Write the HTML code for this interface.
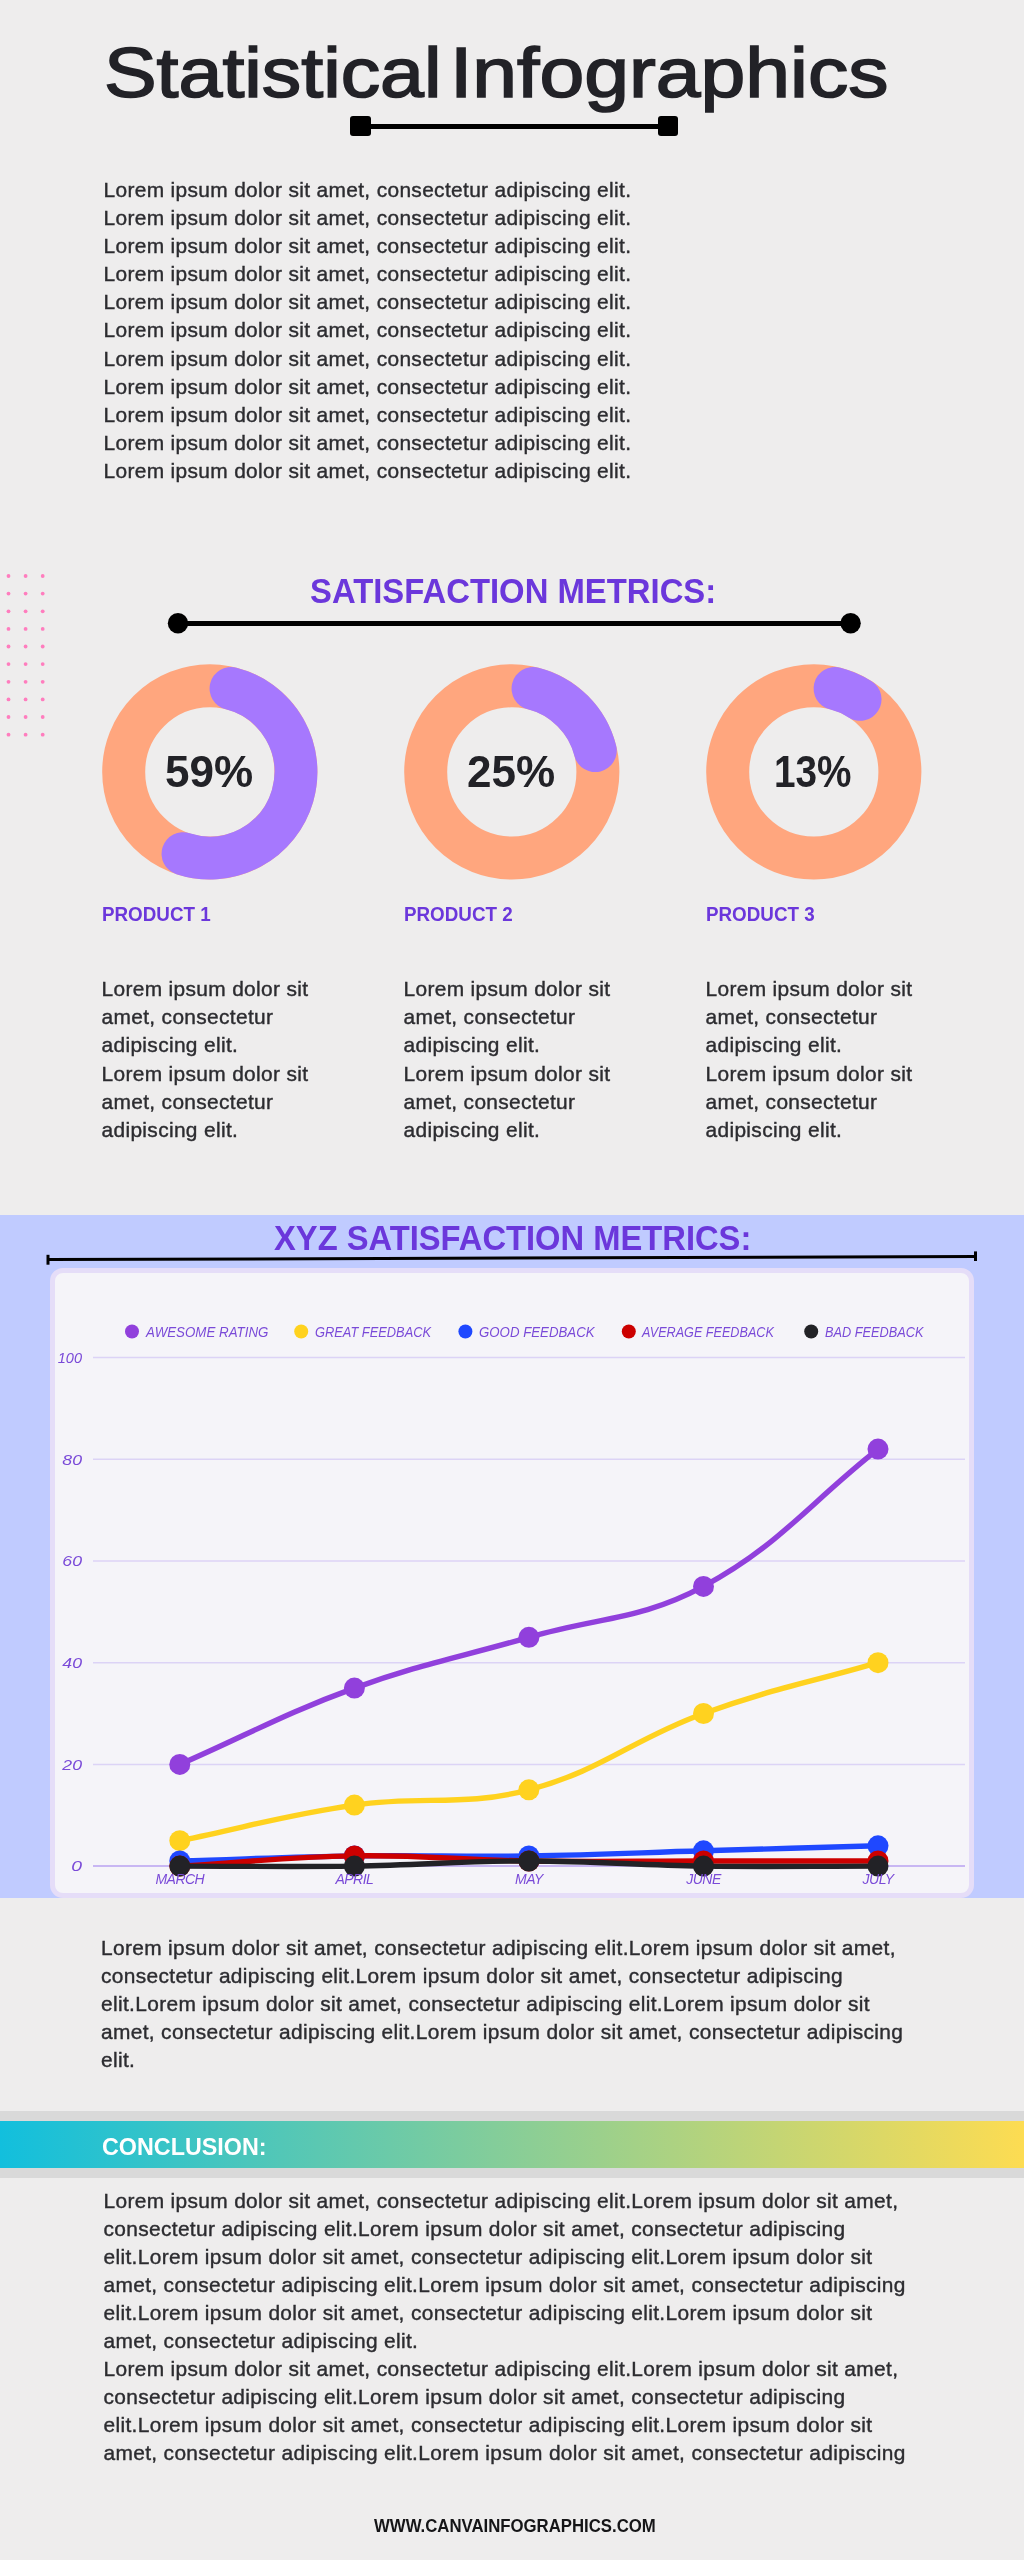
<!DOCTYPE html>
<html><head><meta charset="utf-8"><title>Statistical Infographics</title>
<style>
html,body{margin:0;padding:0;background:#EEEDED}
body{width:1024px;height:2560px;position:relative;overflow:hidden;background:#EEEDED;font-family:"Liberation Sans",sans-serif}
</style></head><body>
<div style="position:absolute;left:0;top:0;width:1024px;height:2560px;will-change:transform">
<div style="position:absolute;left:104.00px;top:31.73px;font-size:69.8px;line-height:83.75999999999999px;color:#222227;font-weight:normal;font-style:normal;letter-spacing:0px;white-space:pre;transform:scaleX(1.13);transform-origin:0 0;-webkit-text-stroke:1.6px #222227;">Statistical</div>
<div style="position:absolute;left:450.00px;top:31.73px;font-size:69.8px;line-height:83.75999999999999px;color:#222227;font-weight:normal;font-style:normal;letter-spacing:0px;white-space:pre;transform:scaleX(1.153);transform-origin:0 0;-webkit-text-stroke:1.6px #222227;">Infographics</div>
<div style="position:absolute;left:360px;top:123.5px;width:308px;height:5px;background:#000"></div>
<div style="position:absolute;left:350.3px;top:116px;width:20.5px;height:20.3px;background:#000;border-radius:3px"></div>
<div style="position:absolute;left:657.5px;top:116px;width:20.5px;height:20.3px;background:#000;border-radius:3px"></div>
<div style="position:absolute;left:103.50px;top:175.68px;font-size:20.9px;line-height:28.16px;color:#2C2C30;letter-spacing:0.343px;word-spacing:0px;white-space:pre;-webkit-text-stroke:0.4px #2C2C30;">Lorem ipsum dolor sit amet, consectetur adipiscing elit.<br>Lorem ipsum dolor sit amet, consectetur adipiscing elit.<br>Lorem ipsum dolor sit amet, consectetur adipiscing elit.<br>Lorem ipsum dolor sit amet, consectetur adipiscing elit.<br>Lorem ipsum dolor sit amet, consectetur adipiscing elit.<br>Lorem ipsum dolor sit amet, consectetur adipiscing elit.<br>Lorem ipsum dolor sit amet, consectetur adipiscing elit.<br>Lorem ipsum dolor sit amet, consectetur adipiscing elit.<br>Lorem ipsum dolor sit amet, consectetur adipiscing elit.<br>Lorem ipsum dolor sit amet, consectetur adipiscing elit.<br>Lorem ipsum dolor sit amet, consectetur adipiscing elit.</div>
<svg style="position:absolute;left:0;top:0" width="1024" height="1000" viewBox="0 0 1024 1000"><circle cx="8.5" cy="576.0" r="1.9" fill="#FF7DBE"/><circle cx="25.6" cy="576.0" r="1.9" fill="#FF7DBE"/><circle cx="42.7" cy="576.0" r="1.9" fill="#FF7DBE"/><circle cx="8.5" cy="593.6" r="1.9" fill="#FF7DBE"/><circle cx="25.6" cy="593.6" r="1.9" fill="#FF7DBE"/><circle cx="42.7" cy="593.6" r="1.9" fill="#FF7DBE"/><circle cx="8.5" cy="611.3" r="1.9" fill="#FF7DBE"/><circle cx="25.6" cy="611.3" r="1.9" fill="#FF7DBE"/><circle cx="42.7" cy="611.3" r="1.9" fill="#FF7DBE"/><circle cx="8.5" cy="628.9" r="1.9" fill="#FF7DBE"/><circle cx="25.6" cy="628.9" r="1.9" fill="#FF7DBE"/><circle cx="42.7" cy="628.9" r="1.9" fill="#FF7DBE"/><circle cx="8.5" cy="646.5" r="1.9" fill="#FF7DBE"/><circle cx="25.6" cy="646.5" r="1.9" fill="#FF7DBE"/><circle cx="42.7" cy="646.5" r="1.9" fill="#FF7DBE"/><circle cx="8.5" cy="664.1" r="1.9" fill="#FF7DBE"/><circle cx="25.6" cy="664.1" r="1.9" fill="#FF7DBE"/><circle cx="42.7" cy="664.1" r="1.9" fill="#FF7DBE"/><circle cx="8.5" cy="681.8" r="1.9" fill="#FF7DBE"/><circle cx="25.6" cy="681.8" r="1.9" fill="#FF7DBE"/><circle cx="42.7" cy="681.8" r="1.9" fill="#FF7DBE"/><circle cx="8.5" cy="699.4" r="1.9" fill="#FF7DBE"/><circle cx="25.6" cy="699.4" r="1.9" fill="#FF7DBE"/><circle cx="42.7" cy="699.4" r="1.9" fill="#FF7DBE"/><circle cx="8.5" cy="717.0" r="1.9" fill="#FF7DBE"/><circle cx="25.6" cy="717.0" r="1.9" fill="#FF7DBE"/><circle cx="42.7" cy="717.0" r="1.9" fill="#FF7DBE"/><circle cx="8.5" cy="734.7" r="1.9" fill="#FF7DBE"/><circle cx="25.6" cy="734.7" r="1.9" fill="#FF7DBE"/><circle cx="42.7" cy="734.7" r="1.9" fill="#FF7DBE"/><circle cx="209.8" cy="771.9" r="86.1" fill="none" stroke="#FFA67E" stroke-width="43"/><path d="M231.08 688.47 A86.1 86.1 0 1 1 183.06 853.74" fill="none" stroke="#A678FE" stroke-width="43" stroke-linecap="round"/><circle cx="511.8" cy="771.9" r="86.1" fill="none" stroke="#FFA67E" stroke-width="43"/><path d="M533.08 688.47 A86.1 86.1 0 0 1 595.23 750.62" fill="none" stroke="#A678FE" stroke-width="43" stroke-linecap="round"/><circle cx="813.8" cy="771.9" r="86.1" fill="none" stroke="#FFA67E" stroke-width="43"/><path d="M835.08 688.47 A86.1 86.1 0 0 1 860.05 699.28" fill="none" stroke="#A678FE" stroke-width="43" stroke-linecap="round"/><line x1="178" y1="623.5" x2="850.6" y2="623.5" stroke="#000" stroke-width="5"/><circle cx="178" cy="623.3" r="10.2" fill="#000"/><circle cx="850.6" cy="623.3" r="10.2" fill="#000"/></svg>
<div style="position:absolute;left:309.80px;top:570.10px;font-size:35.5px;line-height:42.6px;color:#6B37DB;font-weight:bold;font-style:normal;letter-spacing:0px;white-space:pre;transform:scaleX(0.925);transform-origin:0 0;">SATISFACTION METRICS:</div>
<div style="position:absolute;left:165.00px;top:745.95px;font-size:44px;line-height:52.8px;color:#222227;font-weight:bold;font-style:normal;letter-spacing:0px;white-space:pre;">59%</div>
<div style="position:absolute;left:467.00px;top:745.95px;font-size:44px;line-height:52.8px;color:#222227;font-weight:bold;font-style:normal;letter-spacing:0px;white-space:pre;">25%</div>
<div style="position:absolute;left:773.80px;top:745.95px;font-size:44px;line-height:52.8px;color:#222227;font-weight:bold;font-style:normal;letter-spacing:0px;white-space:pre;transform:scaleX(0.88);transform-origin:0 0;">13%</div>
<div style="position:absolute;left:101.50px;top:901.22px;font-size:20.9px;line-height:25.08px;color:#6B37DB;font-weight:bold;font-style:normal;letter-spacing:0px;white-space:pre;transform:scaleX(0.9);transform-origin:0 0;">PRODUCT 1</div>
<div style="position:absolute;left:101.50px;top:974.81px;font-size:20.9px;line-height:28.3px;color:#2C2C30;letter-spacing:0.343px;word-spacing:0px;white-space:pre;-webkit-text-stroke:0.4px #2C2C30;">Lorem ipsum dolor sit<br>amet, consectetur<br>adipiscing elit.<br>Lorem ipsum dolor sit<br>amet, consectetur<br>adipiscing elit.</div>
<div style="position:absolute;left:403.50px;top:901.22px;font-size:20.9px;line-height:25.08px;color:#6B37DB;font-weight:bold;font-style:normal;letter-spacing:0px;white-space:pre;transform:scaleX(0.9);transform-origin:0 0;">PRODUCT 2</div>
<div style="position:absolute;left:403.50px;top:974.81px;font-size:20.9px;line-height:28.3px;color:#2C2C30;letter-spacing:0.343px;word-spacing:0px;white-space:pre;-webkit-text-stroke:0.4px #2C2C30;">Lorem ipsum dolor sit<br>amet, consectetur<br>adipiscing elit.<br>Lorem ipsum dolor sit<br>amet, consectetur<br>adipiscing elit.</div>
<div style="position:absolute;left:705.50px;top:901.22px;font-size:20.9px;line-height:25.08px;color:#6B37DB;font-weight:bold;font-style:normal;letter-spacing:0px;white-space:pre;transform:scaleX(0.9);transform-origin:0 0;">PRODUCT 3</div>
<div style="position:absolute;left:705.50px;top:974.81px;font-size:20.9px;line-height:28.3px;color:#2C2C30;letter-spacing:0.343px;word-spacing:0px;white-space:pre;-webkit-text-stroke:0.4px #2C2C30;">Lorem ipsum dolor sit<br>amet, consectetur<br>adipiscing elit.<br>Lorem ipsum dolor sit<br>amet, consectetur<br>adipiscing elit.</div>
<div style="position:absolute;left:0;top:1215.4px;width:1024px;height:683px;background:#C0CBFF"></div>
<div style="position:absolute;left:49.8px;top:1267.8px;width:924.5px;height:630.2px;box-sizing:border-box;border:5px solid #E5DDF8;border-radius:13px;background:#F5F4F9"></div>
<div style="position:absolute;left:274.00px;top:1217.66px;font-size:34.7px;line-height:41.64px;color:#6B37DB;font-weight:bold;font-style:normal;letter-spacing:0px;white-space:pre;transform:scaleX(0.943);transform-origin:0 0;">XYZ SATISFACTION METRICS:</div>
<svg style="position:absolute;left:0;top:0" width="1024" height="2000" viewBox="0 0 1024 2000"><line x1="48" y1="1259.6" x2="975.5" y2="1256.5" stroke="#000" stroke-width="3"/><line x1="48" y1="1254.8" x2="48" y2="1264.7" stroke="#000" stroke-width="3"/><line x1="975.5" y1="1251.4" x2="975.5" y2="1261" stroke="#000" stroke-width="3"/><line x1="93" y1="1866.1" x2="965" y2="1866.1" stroke="#B9A2F0" stroke-width="1.5"/><line x1="93" y1="1764.4" x2="965" y2="1764.4" stroke="#DCD3F6" stroke-width="1.5"/><line x1="93" y1="1662.7" x2="965" y2="1662.7" stroke="#DCD3F6" stroke-width="1.5"/><line x1="93" y1="1561.0" x2="965" y2="1561.0" stroke="#DCD3F6" stroke-width="1.5"/><line x1="93" y1="1459.3" x2="965" y2="1459.3" stroke="#DCD3F6" stroke-width="1.5"/><line x1="93" y1="1357.6" x2="965" y2="1357.6" stroke="#DCD3F6" stroke-width="1.5"/><path d="M179.8 1764.4 C249.6 1733.9 282.9 1714.1 354.4 1688.1 C422.5 1663.3 459.1 1657.6 528.9 1637.3 C598.7 1616.9 640.6 1620.3 703.5 1586.4 C780.2 1545.0 808.2 1504.0 878.0 1449.1" fill="none" stroke="#9140DC" stroke-width="5.4" stroke-linejoin="round"/><circle cx="179.8" cy="1764.4" r="10.5" fill="#9140DC"/><circle cx="354.4" cy="1688.1" r="10.5" fill="#9140DC"/><circle cx="528.9" cy="1637.3" r="10.5" fill="#9140DC"/><circle cx="703.5" cy="1586.4" r="10.5" fill="#9140DC"/><circle cx="878.0" cy="1449.1" r="10.5" fill="#9140DC"/><path d="M179.8 1840.7 C249.6 1826.4 284.0 1815.3 354.4 1805.1 C423.6 1795.0 462.0 1807.4 528.9 1789.8 C601.6 1770.8 632.0 1739.6 703.5 1713.5 C771.6 1688.7 808.2 1683.0 878.0 1662.7" fill="none" stroke="#FFD21F" stroke-width="5.4" stroke-linejoin="round"/><circle cx="179.8" cy="1840.7" r="10.5" fill="#FFD21F"/><circle cx="354.4" cy="1805.1" r="10.5" fill="#FFD21F"/><circle cx="528.9" cy="1789.8" r="10.5" fill="#FFD21F"/><circle cx="703.5" cy="1713.5" r="10.5" fill="#FFD21F"/><circle cx="878.0" cy="1662.7" r="10.5" fill="#FFD21F"/><path d="M179.8 1861.0 C249.6 1859.0 284.5 1856.9 354.4 1855.9 C424.2 1854.9 459.1 1856.9 528.9 1855.9 C598.7 1854.9 633.6 1852.9 703.5 1850.8 C773.3 1848.8 808.2 1847.8 878.0 1845.8" fill="none" stroke="#1F48FF" stroke-width="5.4" stroke-linejoin="round"/><circle cx="179.8" cy="1861.0" r="10.5" fill="#1F48FF"/><circle cx="354.4" cy="1855.9" r="10.5" fill="#1F48FF"/><circle cx="528.9" cy="1855.9" r="10.5" fill="#1F48FF"/><circle cx="703.5" cy="1850.8" r="10.5" fill="#1F48FF"/><circle cx="878.0" cy="1845.8" r="10.5" fill="#1F48FF"/><path d="M179.8 1866.1 C249.6 1862.0 284.5 1856.9 354.4 1855.9 C424.1 1854.9 459.1 1860.0 528.9 1861.0 C598.7 1862.0 633.6 1861.0 703.5 1861.0 C773.3 1861.0 808.2 1861.0 878.0 1861.0" fill="none" stroke="#CC0000" stroke-width="5.4" stroke-linejoin="round"/><circle cx="179.8" cy="1866.1" r="10.5" fill="#CC0000"/><circle cx="354.4" cy="1855.9" r="10.5" fill="#CC0000"/><circle cx="528.9" cy="1861.0" r="10.5" fill="#CC0000"/><circle cx="703.5" cy="1861.0" r="10.5" fill="#CC0000"/><circle cx="878.0" cy="1861.0" r="10.5" fill="#CC0000"/><path d="M179.8 1866.1 C249.6 1866.1 284.5 1867.1 354.4 1866.1 C424.2 1865.1 459.1 1861.0 528.9 1861.0 C598.7 1861.0 633.6 1865.1 703.5 1866.1 C773.3 1867.1 808.2 1866.1 878.0 1866.1" fill="none" stroke="#222226" stroke-width="5.4" stroke-linejoin="round"/><circle cx="179.8" cy="1866.1" r="10.5" fill="#222226"/><circle cx="354.4" cy="1866.1" r="10.5" fill="#222226"/><circle cx="528.9" cy="1861.0" r="10.5" fill="#222226"/><circle cx="703.5" cy="1866.1" r="10.5" fill="#222226"/><circle cx="878.0" cy="1866.1" r="10.5" fill="#222226"/><circle cx="132" cy="1331.5" r="7" fill="#9140DC"/><circle cx="301.2" cy="1331.5" r="7" fill="#FFD21F"/><circle cx="465.4" cy="1331.5" r="7" fill="#1F48FF"/><circle cx="628.8" cy="1331.5" r="7" fill="#CC0000"/><circle cx="811.2" cy="1331.5" r="7" fill="#222226"/></svg>
<div style="position:absolute;left:145.60px;top:1322.92px;font-size:15.3px;line-height:18.36px;color:#7A4AD8;font-weight:normal;font-style:italic;letter-spacing:0px;white-space:pre;transform:scaleX(0.8708694214876034);transform-origin:0 0;">AWESOME RATING</div>
<div style="position:absolute;left:314.90px;top:1322.92px;font-size:15.3px;line-height:18.36px;color:#7A4AD8;font-weight:normal;font-style:italic;letter-spacing:0px;white-space:pre;transform:scaleX(0.8395529411764705);transform-origin:0 0;">GREAT FEEDBACK</div>
<div style="position:absolute;left:478.90px;top:1322.92px;font-size:15.3px;line-height:18.36px;color:#7A4AD8;font-weight:normal;font-style:italic;letter-spacing:0px;white-space:pre;transform:scaleX(0.8664904347826087);transform-origin:0 0;">GOOD FEEDBACK</div>
<div style="position:absolute;left:642.20px;top:1322.92px;font-size:15.3px;line-height:18.36px;color:#7A4AD8;font-weight:normal;font-style:italic;letter-spacing:0px;white-space:pre;transform:scaleX(0.8249122302158273);transform-origin:0 0;">AVERAGE FEEDBACK</div>
<div style="position:absolute;left:824.80px;top:1322.92px;font-size:15.3px;line-height:18.36px;color:#7A4AD8;font-weight:normal;font-style:italic;letter-spacing:0px;white-space:pre;transform:scaleX(0.8334485436893204);transform-origin:0 0;">BAD FEEDBACK</div>
<div style="position:absolute;left:30px;width:52px;text-align:right;top:1857.4px;font-size:15px;line-height:18px;color:#7A4AD8;font-style:italic;transform:scaleX(1.29);transform-origin:52px 0">0</div>
<div style="position:absolute;left:30px;width:52px;text-align:right;top:1755.7px;font-size:15px;line-height:18px;color:#7A4AD8;font-style:italic;transform:scaleX(1.18);transform-origin:52px 0">20</div>
<div style="position:absolute;left:30px;width:52px;text-align:right;top:1654.0px;font-size:15px;line-height:18px;color:#7A4AD8;font-style:italic;transform:scaleX(1.18);transform-origin:52px 0">40</div>
<div style="position:absolute;left:30px;width:52px;text-align:right;top:1552.3px;font-size:15px;line-height:18px;color:#7A4AD8;font-style:italic;transform:scaleX(1.18);transform-origin:52px 0">60</div>
<div style="position:absolute;left:30px;width:52px;text-align:right;top:1450.6px;font-size:15px;line-height:18px;color:#7A4AD8;font-style:italic;transform:scaleX(1.18);transform-origin:52px 0">80</div>
<div style="position:absolute;left:30px;width:52px;text-align:right;top:1348.9px;font-size:15px;line-height:18px;color:#7A4AD8;font-style:italic;transform:scaleX(0.97);transform-origin:52px 0">100</div>
<div style="position:absolute;left:119.8px;width:120px;text-align:center;top:1869.8px;font-size:14px;line-height:18px;color:#7A4AD8;font-style:italic;letter-spacing:-0.5px">MARCH</div>
<div style="position:absolute;left:294.4px;width:120px;text-align:center;top:1869.8px;font-size:14px;line-height:18px;color:#7A4AD8;font-style:italic;letter-spacing:-0.5px">APRIL</div>
<div style="position:absolute;left:468.9px;width:120px;text-align:center;top:1869.8px;font-size:14px;line-height:18px;color:#7A4AD8;font-style:italic;letter-spacing:-0.5px">MAY</div>
<div style="position:absolute;left:643.5px;width:120px;text-align:center;top:1869.8px;font-size:14px;line-height:18px;color:#7A4AD8;font-style:italic;letter-spacing:-0.5px">JUNE</div>
<div style="position:absolute;left:818.0px;width:120px;text-align:center;top:1869.8px;font-size:14px;line-height:18px;color:#7A4AD8;font-style:italic;letter-spacing:-0.5px">JULY</div>
<div style="position:absolute;left:101.00px;top:1933.66px;font-size:20.9px;line-height:28.2px;color:#2C2C30;letter-spacing:0.343px;word-spacing:0px;white-space:pre;-webkit-text-stroke:0.4px #2C2C30;">Lorem ipsum dolor sit amet, consectetur adipiscing elit.Lorem ipsum dolor sit amet,<br>consectetur adipiscing elit.Lorem ipsum dolor sit amet, consectetur adipiscing<br>elit.Lorem ipsum dolor sit amet, consectetur adipiscing elit.Lorem ipsum dolor sit<br>amet, consectetur adipiscing elit.Lorem ipsum dolor sit amet, consectetur adipiscing<br>elit.</div>
<div style="position:absolute;left:0;top:2110.8px;width:1024px;height:67.6px;background:#D9D9D9"></div>
<div style="position:absolute;left:0;top:2120.8px;width:1024px;height:47.3px;background:linear-gradient(90deg,#12BFDD,#FDDC52)"></div>
<div style="position:absolute;left:101.90px;top:2132.78px;font-size:24px;line-height:28.799999999999997px;color:#FFFFFF;font-weight:bold;font-style:normal;letter-spacing:0px;white-space:pre;transform:scaleX(0.972);transform-origin:0 0;">CONCLUSION:</div>
<div style="position:absolute;left:103.50px;top:2186.86px;font-size:20.9px;line-height:28.0px;color:#2C2C30;letter-spacing:0.343px;word-spacing:0px;white-space:pre;-webkit-text-stroke:0.4px #2C2C30;">Lorem ipsum dolor sit amet, consectetur adipiscing elit.Lorem ipsum dolor sit amet,<br>consectetur adipiscing elit.Lorem ipsum dolor sit amet, consectetur adipiscing<br>elit.Lorem ipsum dolor sit amet, consectetur adipiscing elit.Lorem ipsum dolor sit<br>amet, consectetur adipiscing elit.Lorem ipsum dolor sit amet, consectetur adipiscing<br>elit.Lorem ipsum dolor sit amet, consectetur adipiscing elit.Lorem ipsum dolor sit<br>amet, consectetur adipiscing elit.<br>Lorem ipsum dolor sit amet, consectetur adipiscing elit.Lorem ipsum dolor sit amet,<br>consectetur adipiscing elit.Lorem ipsum dolor sit amet, consectetur adipiscing<br>elit.Lorem ipsum dolor sit amet, consectetur adipiscing elit.Lorem ipsum dolor sit<br>amet, consectetur adipiscing elit.Lorem ipsum dolor sit amet, consectetur adipiscing</div>
<div style="position:absolute;left:373.60px;top:2514.69px;font-size:18.5px;line-height:22.2px;color:#151517;font-weight:bold;font-style:normal;letter-spacing:0px;white-space:pre;transform:scaleX(0.906);transform-origin:0 0;">WWW.CANVAINFOGRAPHICS.COM</div>
</div>
</body></html>
